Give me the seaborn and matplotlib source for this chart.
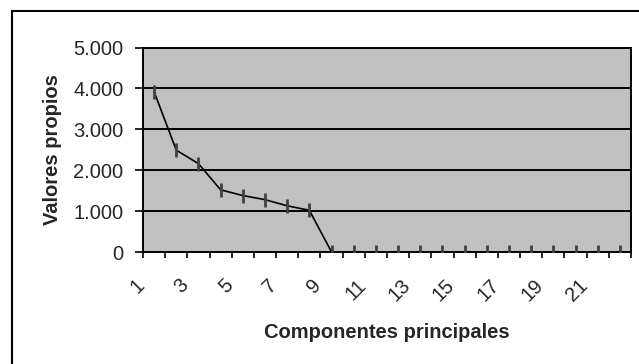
import matplotlib
matplotlib.use("Agg")
import matplotlib.pyplot as plt
from matplotlib.patches import Rectangle
from matplotlib.transforms import ScaledTranslation
import seaborn as sns
import pandas as pd

# scree plot data (eigenvalues per principal component)
components = [1, 2, 3, 4, 5, 6, 7, 8, 9, 10, 11, 12, 13, 14, 15, 16, 17, 18, 19, 20, 21, 22]
eigenvalues = [3920, 2490, 2160, 1520, 1380, 1280, 1130, 1020,
               0, 0, 0, 0, 0, 0, 0, 0, 0, 0, 0, 0, 0, 0]
y_ticks = [0, 1000, 2000, 3000, 4000, 5000]
y_tick_labels = ["0", "1.000", "2.000", "3.000", "4.000", "5.000"]
x_label_positions = [1, 3, 5, 7, 9, 11, 13, 15, 17, 19, 21]
x_tick_labels = ["1", "3", "5", "7", "9", "11", "13", "15", "17", "19", "21"]

df = pd.DataFrame({"componente": components, "valor": eigenvalues})

sns.set_style("white")
plt.rcParams["font.family"] = ["Liberation Sans", "DejaVu Sans"]

W, H = 639, 364
fig = plt.figure(figsize=(W / 100, H / 100), dpi=100)
ax = fig.add_axes([143 / W, 1 - 252 / H, 488 / W, 204.5 / H])
ax.set_facecolor("#C0C0C0")

sns.lineplot(data=df, x="componente", y="valor", ax=ax, color="black",
             linewidth=1.2, marker="|", markersize=9.5,
             markeredgecolor="#404040", markeredgewidth=2.0, zorder=5)

ax.set_xlim(0.5, 22.5)
ax.set_ylim(0, 5000)

# gridlines
ax.set_yticks(y_ticks, labels=y_tick_labels, fontsize=14.5)
ax.yaxis.grid(True, color="black", linewidth=1.4)
ax.xaxis.grid(False)
ax.set_axisbelow(True)
ax.tick_params(axis="y", direction="out", length=6, width=1.2, pad=8, color="black", left=True)

for s in ax.spines.values():
    s.set_color("black")
    s.set_linewidth(1.4)

# x axis: minor ticks at category boundaries, labels at odd categories
ax.set_xticks([c - 0.5 for c in components] + [components[-1] + 0.5], minor=True)
ax.set_xticks(x_label_positions, labels=x_tick_labels, fontsize=14.5,
              rotation=45, ha="right", va="center", rotation_mode="anchor")
ax.tick_params(axis="x", which="major", length=0, pad=22, bottom=True)
ax.tick_params(axis="x", which="minor", direction="out", length=4, width=1.2,
               color="black", bottom=True)
for lab in ax.get_xticklabels():
    lab.set_transform(lab.get_transform() + ScaledTranslation(-0.13, 0, fig.dpi_scale_trans))

ax.set_xlabel("")
ax.set_ylabel("")
fig.text(387 / W, 1 - 333 / H, "Componentes principales", fontsize=14.5,
         fontweight="bold", ha="center", va="center")
fig.text(53 / W, 1 - 150 / H, "Valores propios", fontsize=14.5,
         fontweight="bold", ha="center", va="center", rotation=90)

# outer chart frame (cropped at right and bottom)
fig.patches.append(Rectangle((12 / W, -0.2), 1.2, 0.2 + (1 - 11 / H),
                             transform=fig.transFigure, fill=False,
                             edgecolor="black", linewidth=1.5))

fig.savefig("out.png", dpi=100)
plt.close(fig)
